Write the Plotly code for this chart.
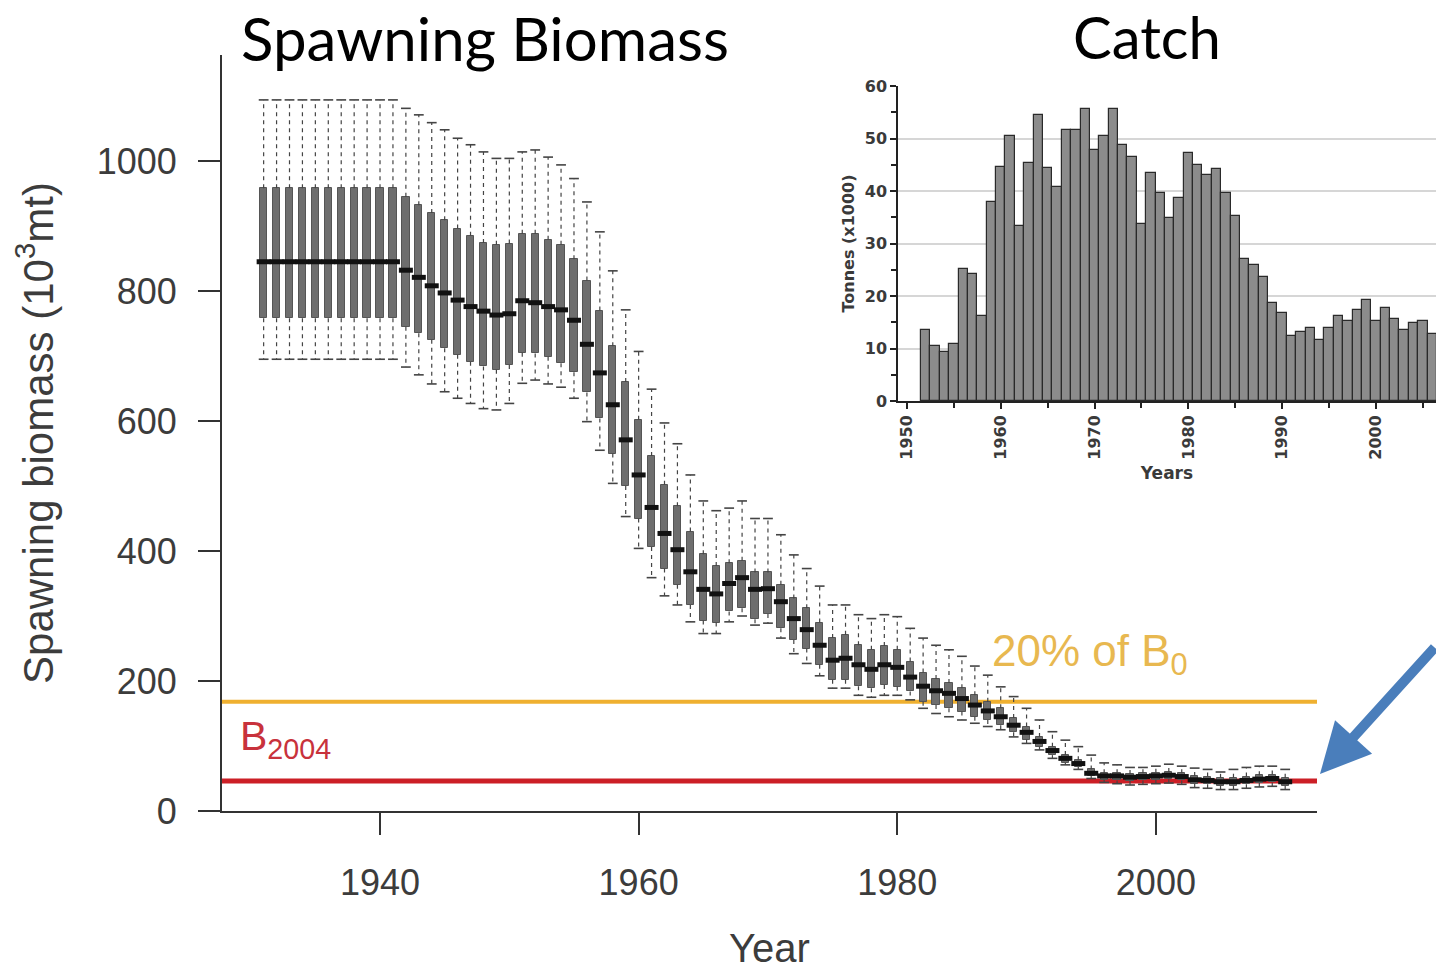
import plotly.graph_objects as go

# ---------------- data: spawning biomass (10^3 mt) ----------------
years = list(range(1931, 2011))
upper_whisker = [1094] * 11 + [
    1081, 1071, 1059, 1048, 1035, 1025, 1014, 1004, 1004, 1014, 1017, 1006, 994, 973,
    937, 891, 831, 771, 707, 649, 597, 565, 517, 477, 462, 466, 477, 450, 450, 425,
    394, 373, 346, 317, 317, 302, 296, 302, 299, 281, 266, 255, 248, 238, 223, 209,
    191, 176, 158, 140, 122, 109, 99, 86, 74, 71, 67, 67, 69, 72, 69, 66, 64, 60,
    64, 67, 69, 69, 64]
q3 = [958] * 11 + [
    945, 932, 920, 909, 896, 885, 874, 871, 873, 888, 888, 879, 871, 849,
    816, 770, 715, 660, 602, 546, 502, 469, 430, 395, 377, 381, 385, 367, 367, 348,
    327, 312, 290, 266, 271, 255, 248, 254, 248, 230, 213, 203, 197, 189, 178, 168,
    158, 143, 130, 114, 99, 86, 78, 64, 58, 58, 57, 58, 59, 60, 58, 54, 53, 51,
    51, 53, 55, 56, 51]
median = [845] * 11 + [
    832, 821, 808, 797, 786, 776, 769, 763, 765, 785, 782, 776, 771, 755,
    718, 674, 625, 571, 517, 467, 427, 402, 368, 341, 334, 350, 359, 341, 342, 322,
    296, 279, 255, 232, 235, 225, 218, 225, 221, 206, 192, 185, 181, 173, 163, 154,
    145, 132, 121, 107, 93, 81, 73, 58, 54, 54, 52, 53, 54, 55, 53, 48, 47, 45,
    45, 47, 49, 50, 45]
q1 = [758] * 11 + [
    745, 735, 725, 712, 702, 691, 684, 679, 686, 705, 704, 699, 689, 675,
    644, 604, 550, 500, 450, 406, 373, 348, 317, 293, 290, 307, 312, 295, 303, 281,
    263, 250, 225, 202, 202, 192, 189, 194, 191, 184, 168, 163, 158, 153, 145, 140,
    132, 121, 110, 99, 86, 74, 68, 54, 48, 47, 46, 47, 48, 49, 47, 42, 41, 39,
    39, 41, 43, 44, 39]
lower_whisker = [695] * 11 + [
    683, 671, 657, 645, 635, 627, 619, 617, 627, 658, 663, 657, 652, 635,
    599, 555, 504, 453, 404, 359, 331, 317, 291, 273, 273, 291, 300, 286, 289, 266,
    242, 227, 208, 189, 189, 178, 175, 178, 178, 171, 158, 150, 145, 140, 135, 130,
    125, 114, 104, 94, 81, 71, 64, 50, 44, 42, 40, 41, 42, 43, 41, 36, 35, 33,
    33, 35, 37, 38, 33]

# reference levels
b0_20pct = 168
b_2004 = 46

# ---------------- data: catch (tonnes x1000) ----------------
catch_years = list(range(1952, 2007))
catch = [13.5, 10.5, 9.4, 10.9, 25.1, 24.1, 16.1, 38.0, 44.5, 50.5,
         33.4, 45.4, 54.5, 44.3, 40.8, 51.7, 51.7, 55.6, 47.8, 50.5,
         55.6, 48.8, 46.4, 33.7, 43.5, 39.7, 34.8, 38.7, 47.2, 45.0,
         43.0, 44.1, 39.7, 35.3, 27.0, 26.0, 23.7, 18.6, 16.8, 12.3,
         13.2, 14.0, 11.7, 14.0, 16.2, 15.3, 17.3, 19.2, 15.3, 17.7,
         15.7, 13.5, 14.8, 15.3, 12.7]

main_ticks = [1940, 1960, 1980, 2000]
inset_ticks = [1950, 1960, 1970, 1980, 1990, 2000]

W, H = 1436, 970
def px(x):
    return x / W
def py(y):
    return 1 - y / H

AX_FONT = dict(family="Liberation Sans, Arial, sans-serif", size=36, color="#3c3c3c")
IN_FONT = dict(family="DejaVu Sans, sans-serif", size=16, color="#3a3a3a", weight="bold")

fig = go.Figure()

# whiskers (dashed), built from data
wx, wy = [], []
for yr, lo, a, b, hi in zip(years, lower_whisker, q1, q3, upper_whisker):
    wx += [yr, yr, None, yr, yr, None]
    wy += [b, hi, None, a, lo, None]
fig.add_trace(go.Scatter(x=wx, y=wy, mode="lines",
                         line=dict(color="#444444", width=1.2, dash="4px,4px"),
                         hoverinfo="skip", showlegend=False))
# whisker caps
fig.add_trace(go.Scatter(x=years + years, y=upper_whisker + lower_whisker, mode="markers",
                         marker=dict(symbol="line-ew", size=7,
                                     line=dict(color="#444444", width=1.6)),
                         hoverinfo="skip", showlegend=False))
# boxes (q1 -> q3)
fig.add_trace(go.Bar(x=years, y=[b - a for a, b in zip(q1, q3)], base=q1, width=0.56,
                     marker=dict(color="#6e6e6e", line=dict(color="#555555", width=1)),
                     showlegend=False))
# medians
fig.add_trace(go.Scatter(x=years, y=median, mode="markers",
                         marker=dict(symbol="line-ew", size=10,
                                     line=dict(color="#111111", width=5)),
                         showlegend=False))

# inset catch bars
fig.add_trace(go.Bar(x=catch_years, y=catch, width=1.0, xaxis="x2", yaxis="y2",
                     marker=dict(color="#8c8c8c", line=dict(color="#2a2a2a", width=1.2)),
                     showlegend=False))

# reference lines
fig.add_hline(y=b0_20pct, line=dict(color="#efb030", width=4), layer="below")
fig.add_hline(y=b_2004, line=dict(color="#cc1f26", width=5), layer="below")

fig.update_layout(
    width=W, height=H,
    margin=dict(l=0, r=0, t=0, b=0),
    paper_bgcolor="white", plot_bgcolor="white",
    bargap=0,
    xaxis=dict(domain=[px(222), px(1317)], range=[1927.78, 2012.46],
               tickvals=main_ticks, ticks="outside", ticklen=22, tickwidth=2,
               tickcolor="#333333", showline=True, linecolor="#333333", linewidth=2,
               showgrid=False, zeroline=False, tickfont=AX_FONT, ticklabelstandoff=17,
               title=dict(text="Year", font=dict(AX_FONT, size=40), standoff=34),
               automargin=False),
    yaxis=dict(domain=[py(811), py(55)], range=[0, (811 - 55) / 0.65],
               tickvals=[0, 200, 400, 600, 800, 1000], ticks="outside", ticklen=22,
               tickwidth=2, tickcolor="#333333", showline=True, linecolor="#333333",
               linewidth=2, showgrid=False, zeroline=False, tickfont=AX_FONT,
               ticklabelstandoff=14,
               title=dict(text="Spawning biomass (10<sup>3</sup>mt)",
                          font=dict(AX_FONT, size=42), standoff=30),
               automargin=False),
    xaxis2=dict(domain=[px(898), 1.0], range=[1949.04, 2006.4], anchor="y2",
                tickvals=inset_ticks, tickangle=-90, ticks="outside", ticklen=6,
                tickcolor="#222222", tickwidth=1.5,
                minor=dict(dtick=5, ticks="outside", ticklen=5, tickcolor="#222222"),
                showline=True, linecolor="#222222", linewidth=1.5, showgrid=False,
                zeroline=False, tickfont=IN_FONT,
                title=dict(text="Years", font=dict(IN_FONT, size=17), standoff=8),
                automargin=False),
    yaxis2=dict(domain=[py(401), py(86)], range=[0, 60], anchor="x2",
                dtick=10, ticks="outside", ticklen=6, tickcolor="#222222", tickwidth=1.5,
                minor=dict(dtick=5, ticks="outside", ticklen=5, tickcolor="#222222"),
                showline=True, linecolor="#222222", linewidth=1.5,
                showgrid=True, gridcolor="#d6d6d6", gridwidth=2, zeroline=False,
                tickfont=IN_FONT,
                title=dict(text="Tonnes (x1000)", font=dict(IN_FONT, size=16), standoff=6),
                automargin=False),
    annotations=[
        dict(text="Spawning Biomass", xref="paper", yref="paper", x=px(485), y=py(0),
             xanchor="center", yanchor="top", showarrow=False,
             font=dict(family="Lato, sans-serif", size=60, color="black")),
        dict(text="Catch", xref="paper", yref="paper", x=px(1147), y=py(0),
             xanchor="center", yanchor="top", showarrow=False,
             font=dict(family="Lato, sans-serif", size=58, color="black")),
        dict(text="20% of B<sub>0</sub>", xref="paper", yref="paper", x=px(990), y=py(684),
             xanchor="left", yanchor="bottom", showarrow=False,
             font=dict(family="Liberation Sans, Arial, sans-serif", size=44, color="#e8b850")),
        dict(text="B<sub>2004</sub>", xref="paper", yref="paper", x=px(238), y=py(767),
             xanchor="left", yanchor="bottom", showarrow=False,
             font=dict(family="Liberation Sans, Arial, sans-serif", size=41, color="#c8323c")),
        dict(text="", xref="paper", yref="paper", x=px(1320), y=py(774),
             xanchor="center", yanchor="middle",
             showarrow=True, arrowhead=2, arrowsize=1, arrowwidth=10,
             arrowcolor="#4a7ebb", ax=135, ay=-128, standoff=0),
    ],
)

fig.write_html("out.html")
